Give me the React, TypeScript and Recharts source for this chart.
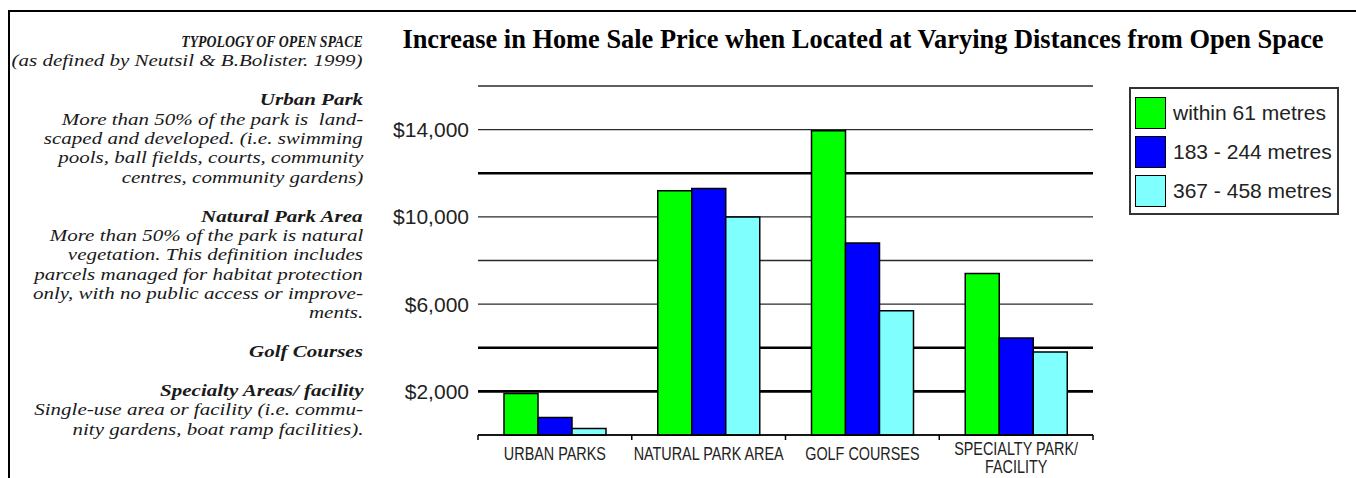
import React from "react";
import { BarChart, Bar, XAxis, YAxis, CartesianGrid, Legend } from "recharts";

// values (US$ increase in sale price)
const categories = ["URBAN PARKS", "NATURAL PARK AREA", "GOLF COURSES", "SPECIALTY PARK/\nFACILITY"];
const seriesNames = ["within 61 metres", "183 - 244 metres", "367 - 458 metres"];
const within61 = [1900, 11200, 13950, 7400];
const m183to244 = [800, 11300, 8800, 4450];
const m367to458 = [300, 10000, 5700, 3800];

const yTicks = [0, 2000, 4000, 6000, 8000, 10000, 12000, 14000, 16000];
const yLabelled = [2000, 6000, 10000, 14000];
const heavyGrid = [2000, 4000, 12000];

const COLORS = ["#00ff00", "#0000ff", "#80ffff"];
const KEYS = ["within61", "m183to244", "m367to458"];

const PLOT = { left: 478, right: 1093, top: 86, bottom: 435 };
const Y_MAX = 16000;
const BAND = (PLOT.right - PLOT.left) / categories.length;
const SANS = "'Liberation Sans', Arial, sans-serif";
const SERIF = "'Liberation Serif', 'Times New Roman', serif";

const data = categories.map((name, i) => ({
  name,
  within61: within61[i],
  m183to244: m183to244[i],
  m367to458: m367to458[i],
}));

// left hand notes: [kind, text]
const notes: [string, string][] = [
  ["cap", "TYPOLOGY OF OPEN SPACE"],
  ["body", "(as defined by Neutsil & B.Bolister. 1999)"],
  ["", ""],
  ["head", "Urban Park"],
  ["body", "More than 50% of the park is  land-"],
  ["body", "scaped and developed. (i.e. swimming"],
  ["body", "pools, ball fields, courts, community"],
  ["body", "centres, community gardens)"],
  ["", ""],
  ["head", "Natural Park Area"],
  ["body", "More than 50% of the park is natural"],
  ["body", "vegetation. This definition includes"],
  ["body", "parcels managed for habitat protection"],
  ["body", "only, with no public access or improve-"],
  ["body", "ments."],
  ["", ""],
  ["head", "Golf Courses"],
  ["", ""],
  ["head", "Specialty Areas/ facility"],
  ["body", "Single-use area or facility (i.e. commu-"],
  ["body", "nity gardens, boat ramp facilities)."],
];

function fmtMoney(v: number) {
  return yLabelled.includes(v) ? "$" + v.toLocaleString("en-US") : "";
}

function gridLine(p: any) {
  const v = Math.round(((PLOT.bottom - p.y1) / (PLOT.bottom - PLOT.top)) * Y_MAX / 2000) * 2000;
  const heavy = heavyGrid.includes(v);
  return (
    <line
      key={p.key}
      x1={p.x1}
      x2={p.x2}
      y1={p.y1}
      y2={p.y2}
      stroke={heavy ? "#000" : "#2a2a2a"}
      strokeWidth={heavy ? 2.6 : 1.3}
    />
  );
}

function CategoryTick(props: any) {
  const { x, payload, index } = props;
  const lines = String(payload.value).split("\n");
  const half = BAND / 2;
  const base = PLOT.bottom + 25 - (lines.length - 1) * 5;
  return (
    <g>
      <line x1={x - half} x2={x - half} y1={PLOT.bottom} y2={PLOT.bottom + 5} stroke="#000" strokeWidth={1.5} />
      {index === categories.length - 1 && (
        <line x1={x + half} x2={x + half} y1={PLOT.bottom} y2={PLOT.bottom + 5} stroke="#000" strokeWidth={1.5} />
      )}
      {lines.map((l, i) => (
        <text
          key={i}
          x={0}
          y={0}
          transform={`translate(${x},${base + i * 18}) scale(0.8,1)`}
          textAnchor="middle"
          fontSize={18}
          fontFamily={SANS}
          fill="#222"
        >
          {l}
        </text>
      ))}
    </g>
  );
}

function LegendBox() {
  return (
    <div
      style={{
        position: "relative",
        boxSizing: "border-box",
        width: 210,
        height: 128,
        border: "2px solid #333",
        background: "#fff",
      }}
    >
      {seriesNames.map((name, i) => (
        <React.Fragment key={name}>
          <div
            style={{
              position: "absolute",
              left: 4,
              top: 8 + i * 39,
              width: 31,
              height: 32,
              boxSizing: "border-box",
              border: "1.5px solid #000",
              background: COLORS[i],
            }}
          />
          <div
            style={{
              position: "absolute",
              left: 42,
              top: 12 + i * 39,
              lineHeight: "24px",
              fontSize: 21,
              fontFamily: SANS,
              color: "#222",
              whiteSpace: "pre",
            }}
          >
            {name}
          </div>
        </React.Fragment>
      ))}
    </div>
  );
}

export default function App() {
  return (
    <div style={{ position: "absolute", left: 0, top: 0, width: 1356, height: 478, background: "#fff", overflow: "hidden" }}>
      <BarChart
        width={1356}
        height={478}
        data={data}
        margin={{ top: PLOT.top, right: 1356 - PLOT.right, bottom: 3, left: PLOT.left - 120 }}
        barGap={0}
      >
        <CartesianGrid vertical={false} horizontal={gridLine} />
        <XAxis
          dataKey="name"
          height={40}
          interval={0}
          tick={<CategoryTick />}
          tickLine={false}
          axisLine={{ stroke: "#000", strokeWidth: 1.5 }}
        />
        <YAxis
          width={120}
          domain={[0, Y_MAX]}
          ticks={yTicks}
          interval={0}
          tickFormatter={fmtMoney}
          axisLine={false}
          tickLine={false}
          tickMargin={3}
          tick={{ fontSize: 21, fill: "#222", fontFamily: SANS }}
        />
        <Legend
          layout="horizontal"
          verticalAlign="middle"
          content={() => <LegendBox />}
          wrapperStyle={{ position: "absolute", left: 1129, top: 87, width: 210, height: 128 }}
        />
        {KEYS.map((k, i) => (
          <Bar
            key={k}
            dataKey={k}
            name={seriesNames[i]}
            fill={COLORS[i]}
            stroke="#000"
            strokeWidth={1.5}
            barSize={34}
            isAnimationActive={false}
          />
        ))}
      </BarChart>

      {/* frame of the scanned page */}
      <div
        style={{
          position: "absolute",
          left: 8,
          top: 10,
          width: 1360,
          height: 480,
          borderTop: "2px solid #000",
          borderLeft: "2px solid #000",
          pointerEvents: "none",
        }}
      />

      <div
        style={{
          position: "absolute",
          left: 383,
          top: 26,
          width: 960,
          textAlign: "center",
          fontFamily: SERIF,
          fontWeight: "bold",
          fontSize: 26.4,
          lineHeight: "26px",
          color: "#000",
          whiteSpace: "nowrap",
        }}
      >
        Increase in Home Sale Price when Located at Varying Distances from Open Space
      </div>

      <div
        style={{
          position: "absolute",
          left: 0,
          top: 32,
          width: 363,
          textAlign: "right",
          fontFamily: SERIF,
          fontStyle: "italic",
          fontSize: 17.5,
          lineHeight: "19.4px",
          color: "#1a1a1a",
        }}
      >
        {notes.map(([kind, text], i) => (
          <div key={i} style={{ height: 19.4, whiteSpace: "pre" }}>
            <span
              style={{
                display: "inline-block",
                fontWeight: kind === "body" ? "normal" : "bold",
                transform: kind === "cap" ? "scaleX(0.79)" : "scaleX(1.2)",
                transformOrigin: "right center",
              }}
            >
              {text}
            </span>
          </div>
        ))}
      </div>
    </div>
  );
}
